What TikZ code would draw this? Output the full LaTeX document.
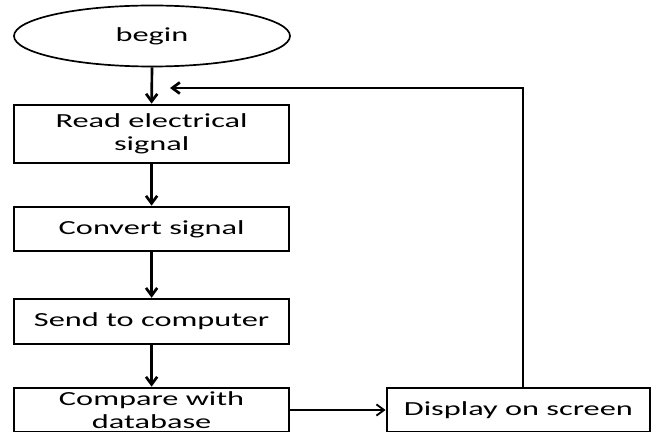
\documentclass[tikz,border=0pt]{standalone}
\usepackage{fontspec}
\setmainfont{Carlito}
\usepackage{graphicx}
\usetikzlibrary{arrows.meta,shapes.geometric}
\newcommand{\stretched}[1]{\scalebox{1.62}[1]{#1}}

\begin{document}
\begin{tikzpicture}[
  arr/.style={-{Straight Barb[length=1.9mm, width=2.8mm]}, line width=1.9pt, black},
  thinarr/.style={-{Straight Barb[length=1.9mm, width=2.8mm]}, line width=1.3pt, black},
  sbox/.style={ellipse, draw=black, line width=1.2pt, minimum width=6.9cm,
               minimum height=1.525cm, font=\fontsize{14.2}{16.4}\selectfont},
  pbox/.style={draw=black, line width=1.9pt, minimum width=6.875cm, inner ysep=0pt,
               align=center, font=\fontsize{14.2}{16.4}\selectfont},
  dbox/.style={draw=black, line width=1.9pt, minimum width=6.575cm, minimum height=1.1cm,
               inner ysep=0pt, align=center, font=\fontsize{14.2}{16.4}\selectfont},
]
\useasboundingbox (0,0) rectangle (16.275,-10.8);
\node[sbox] (begin) at (3.8, -0.9) {\stretched{begin}};
\node[pbox, minimum height=1.45cm]  (read) at (3.79, -3.35)
  {\stretched{Read electrical}\\\stretched{signal}};
\node[pbox, minimum height=1.1cm]   (conv) at (3.79, -5.725) {\stretched{Convert signal}};
\node[pbox, minimum height=1.125cm] (send) at (3.79, -8.04)  {\stretched{Send to computer}};
\node[pbox, minimum height=1.1cm]   (comp) at (3.79, -10.25)
  {\stretched{Compare with}\\\stretched{database}};
\node[dbox] (disp) at (12.96, -10.25) {\stretched{Display on screen}};
\coordinate (back) at (4.25, -2.2);
\draw[arr] (begin.south) -- (read.north);
\draw[arr] (read.south) -- (conv.north);
\draw[arr] (conv.south) -- (send.north);
\draw[arr] (send.south) -- (comp.north);
\draw[thinarr] (comp.east) -- (disp.west);
\draw[arr] ([xshift=0.115cm]disp.north) |- (back);
\end{tikzpicture}
\end{document}
